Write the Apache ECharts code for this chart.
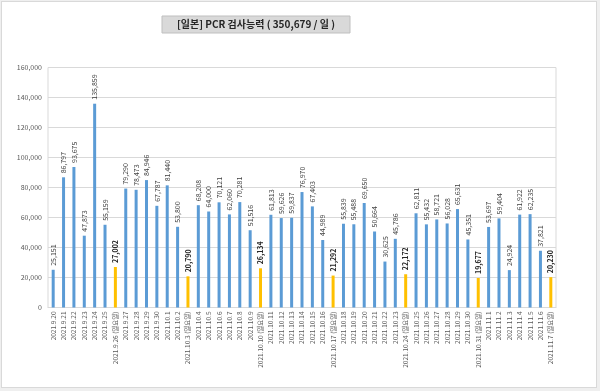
<!DOCTYPE html>
<html>
<head>
<meta charset="utf-8">
<script src="https://cdn.jsdelivr.net/npm/echarts@6/dist/echarts.min.js"></script>
<style>
  html, body { margin: 0; padding: 0; background: #efefef; }
  #frame { position: absolute; left: 1px; top: 1px; width: 594px; height: 385px; background: #ffffff; border: 1px solid #d9d9d9; }
  #main { position: absolute; left: 0; top: 0; width: 600px; height: 391px; }
</style>
</head>
<body>
<div id="frame"></div>
<div id="main"></div>
<script>
const titleText = '[일본] PCR 검사능력 ( 350,679 / 일 )';
const categories = [
  '2021.9.20','2021.9.21','2021.9.22','2021.9.23','2021.9.24','2021.9.25','2021.9.26 (일요일)',
  '2021.9.27','2021.9.28','2021.9.29','2021.9.30','2021.10.1','2021.10.2','2021.10.3 (일요일)',
  '2021.10.4','2021.10.5','2021.10.6','2021.10.7','2021.10.8','2021.10.9','2021.10.10 (일요일)',
  '2021.10.11','2021.10.12','2021.10.13','2021.10.14','2021.10.15','2021.10.16','2021.10.17 (일요일)',
  '2021.10.18','2021.10.19','2021.10.20','2021.10.21','2021.10.22','2021.10.23','2021.10.24 (일요일)',
  '2021.10.25','2021.10.26','2021.10.27','2021.10.28','2021.10.29','2021.10.30','2021.10.31 (일요일)',
  '2021.11.1','2021.11.2','2021.11.3','2021.11.4','2021.11.5','2021.11.6','2021.11.7 (일요일)'
];
const values = [
  25151, 86797, 93675, 47873, 135859, 55159, 27002,
  79290, 78473, 84946, 67787, 81440, 53800, 20790,
  68208, 64000, 70121, 62060, 70281, 51516, 26134,
  61813, 59626, 59837, 76970, 67403, 44989, 21292,
  55839, 55488, 69650, 50664, 30625, 45786, 22172,
  62811, 55432, 58721, 56028, 65631, 45351, 19677,
  53697, 59404, 24924, 61922, 62235, 37821, 20230
];
const yTicks = [0, 20000, 40000, 60000, 80000, 100000, 120000, 140000, 160000];

const FONT = '"Noto Sans CJK KR", "Noto Sans", sans-serif';
const BLUE = '#5b9bd5';
const GOLD = '#ffc000';
const fmt = v => v.toLocaleString('en-US');

const seriesData = values.map((v, i) => {
  const sunday = categories[i].indexOf('일요일') >= 0;
  return {
    value: v,
    itemStyle: { color: sunday ? GOLD : BLUE },
    label: sunday ? { fontWeight: 'bold', color: '#262626' } : {}
  };
});

const chart = echarts.init(document.getElementById('main'), null, { renderer: 'canvas' });
chart.setOption({
  backgroundColor: 'transparent',
  animation: false,
  textStyle: { fontFamily: FONT },
  graphic: [
    {
      type: 'rect',
      shape: { x: 162, y: 16, width: 188, height: 17 },
      style: { fill: '#d9d9d9', stroke: '#bfbfbf', lineWidth: 1 }
    },
    {
      type: 'text',
      x: 256, y: 24.5,
      style: {
        text: titleText,
        fontFamily: FONT, fontSize: 10, fontWeight: 'bold', fill: '#262626',
        align: 'center', verticalAlign: 'middle'
      }
    }
  ],
  grid: {
    left: 48, right: 44, top: 67.5, bottom: 83.5,
    show: true, borderColor: '#d9d9d9', borderWidth: 1, containLabel: false
  },
  xAxis: {
    type: 'category',
    data: categories,
    axisLine: { show: true, lineStyle: { color: '#d9d9d9' } },
    axisTick: { show: false },
    axisLabel: {
      interval: 0, rotate: 90, fontSize: 6.5, color: '#595959', margin: 4, fontFamily: FONT
    }
  },
  yAxis: {
    type: 'value',
    min: yTicks[0], max: yTicks[yTicks.length - 1], interval: yTicks[1] - yTicks[0],
    axisLine: { show: false },
    axisTick: { show: false },
    splitLine: { lineStyle: { color: '#d9d9d9', width: 1 } },
    axisLabel: { fontSize: 7, color: '#595959', margin: 6, formatter: v => fmt(v), fontFamily: FONT }
  },
  series: [{
    type: 'bar',
    data: seriesData,
    barWidth: 3,
    label: {
      show: true, position: 'top', rotate: 90, align: 'left', verticalAlign: 'middle',
      distance: 4, fontSize: 7, color: '#404040', fontFamily: FONT,
      formatter: p => fmt(p.value)
    }
  }]
});
</script>
</body>
</html>
